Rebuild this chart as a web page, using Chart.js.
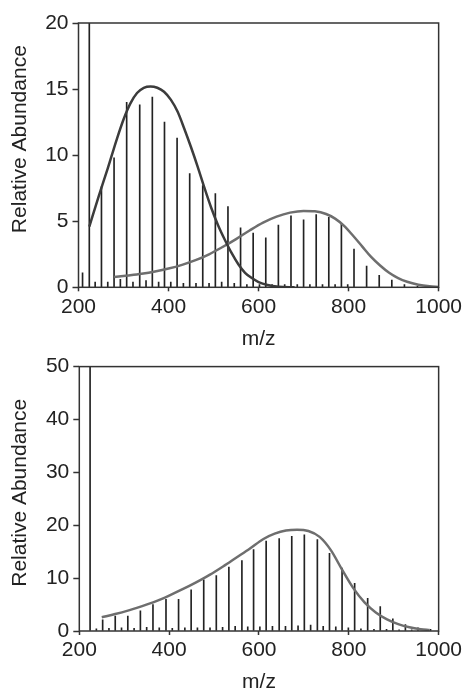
<!DOCTYPE html>
<html lang="en">
<head>
<meta charset="UTF-8">
<title>Relative Abundance vs m/z</title>
<script src="https://cdn.jsdelivr.net/npm/chart.js"></script>
<style>
  body { margin: 0; background: #ffffff; }
  canvas { position: absolute; left: 0; }
</style>
</head>
<body>
<canvas id="topChart" width="465" height="350" style="top:0"></canvas>
<canvas id="bottomChart" width="465" height="343" style="top:350px"></canvas>
<script>
// ---- top spectrum ----
// main peaks (m/z, relative abundance); the 224 peak runs off scale
const topPeakMz  = [209, 224, 251, 279, 307, 336, 364, 391, 419, 447, 476, 504, 532, 560,
                    588, 616, 644, 672, 700, 728, 756, 784, 812, 840, 868, 896, 924, 953];
const topPeakVal = [1.1, 100, 7.6, 9.8, 14.0, 13.8, 14.4, 12.5, 11.3, 8.6, 7.7, 7.1, 6.1, 4.5,
                    4.1, 3.75, 4.7, 5.4, 5.1, 5.5, 5.3, 4.8, 2.9, 1.6, 0.9, 0.55, 0.2, 0.1];
// small peaks in between
const topMinorMz  = [237, 265, 293, 321, 350, 378, 405, 433, 461, 490, 518, 546, 574, 602,
                     630, 658, 686, 714, 742, 770, 798];
const topMinorVal = [0.4, 0.4, 0.6, 0.4, 0.5, 0.4, 0.4, 0.3, 0.3, 0.3, 0.4, 0.3, 0.2, 0.2,
                     0.2, 0.2, 0.2, 0.2, 0.2, 0.2, 0.2];
// envelope 1 (low mass)
const topEnv1Mz  = [224, 245, 265, 285, 300, 315, 330, 345, 360, 375, 390, 405, 420, 435,
                    450, 465, 480, 495, 510, 525, 540, 555, 570, 585, 600, 620, 645, 680];
const topEnv1Val = [4.6, 6.9, 9.0, 11.2, 12.7, 13.9, 14.7, 15.1, 15.2, 15.1, 14.8, 14.2, 13.3, 12.0,
                    10.6, 9.1, 7.5, 6.0, 4.7, 3.6, 2.6, 1.75, 1.1, 0.7, 0.4, 0.18, 0.05, 0];
// envelope 2 (high mass)
const topEnv2Mz  = [279, 310, 340, 370, 400, 430, 460, 490, 520, 550, 580, 610, 640, 670,
                    700, 725, 750, 770, 790, 810, 830, 850, 870, 890, 910, 930, 955, 980, 1000];
const topEnv2Val = [0.78, 0.9, 1.03, 1.2, 1.42, 1.7, 2.05, 2.5, 3.05, 3.65, 4.3, 4.9, 5.35, 5.65,
                    5.78, 5.75, 5.55, 5.2, 4.65, 3.9, 3.1, 2.3, 1.65, 1.1, 0.7, 0.42, 0.2, 0.08, 0.03];

// ---- bottom spectrum ----
const botPeakMz  = [224, 252, 280, 308, 336, 364, 393, 421, 449, 477, 505, 533, 562, 588,
                    616, 645, 673, 701, 730, 757, 785, 813, 842, 870, 898, 926, 954, 982];
const botPeakVal = [100, 2.1, 2.8, 2.8, 3.8, 5.0, 6.0, 6.0, 7.8, 9.7, 10.5, 12.1, 13.3, 15.4,
                    17.0, 17.5, 17.9, 18.2, 17.3, 14.7, 11.9, 9.0, 6.2, 4.6, 2.3, 1.2, 0.6, 0.3];
const botMinorMz  = [238, 266, 294, 322, 350, 378, 407, 435, 463, 491, 519, 547, 575, 602,
                     630, 659, 687, 715, 743, 771, 799, 827, 856, 884, 912, 940];
const botMinorVal = [0.4, 0.5, 0.6, 0.5, 0.7, 0.6, 0.5, 0.6, 0.6, 0.6, 0.7, 0.9, 0.8, 0.8,
                     0.9, 0.9, 1.0, 1.1, 0.9, 0.8, 0.6, 0.4, 0.3, 0.3, 0.2, 0.2];
const botEnvMz  = [250, 280, 310, 340, 370, 400, 430, 460, 490, 520, 550, 580, 610, 635,
                   660, 685, 710, 735, 760, 785, 810, 835, 860, 885, 910, 935, 960, 980];
const botEnvVal = [2.6, 3.2, 3.9, 4.7, 5.6, 6.7, 7.9, 9.2, 10.6, 12.2, 13.9, 15.6, 17.4, 18.4,
                   19.0, 19.15, 18.9, 17.8, 15.3, 11.6, 8.1, 5.4, 3.5, 2.2, 1.3, 0.7, 0.35, 0.2];

const xTicks = [200, 400, 600, 800, 1000];

const INK = "#222222";
const FONT = "'Liberation Sans', Arial, sans-serif";

function pts(mz, val) {
  return mz.map((m, i) => ({ x: m, y: val[i] }));
}

// box round the plot area
const framePlugin = {
  id: "frame",
  afterDatasetsDraw(chart) {
    const { ctx, chartArea: a } = chart;
    ctx.save();
    ctx.strokeStyle = "#333333";
    ctx.lineWidth = 1.5;
    ctx.strokeRect(a.left, a.top, a.right - a.left, a.bottom - a.top);
    ctx.restore();
  }
};

// y title, placed a bit off the axis centre as in the original
const yTitlePlugin = {
  id: "yTitle",
  afterDraw(chart, args, opts) {
    const { ctx, chartArea: a } = chart;
    ctx.save();
    ctx.translate(opts.x, (a.top + a.bottom) / 2 + opts.shift);
    ctx.rotate(-Math.PI / 2);
    ctx.fillStyle = INK;
    ctx.font = "21px " + FONT;
    ctx.textAlign = "center";
    ctx.textBaseline = "middle";
    ctx.fillText(opts.text, 0, 0);
    ctx.restore();
  }
};

function spectrum(id, cfg) {
  const datasets = [
    { data: pts(cfg.peakMz, cfg.peakVal), backgroundColor: INK, barThickness: 1, grouped: false, order: 2 },
    { data: pts(cfg.minorMz, cfg.minorVal), backgroundColor: INK, barThickness: 1, grouped: false, order: 2 }
  ];
  cfg.curves.forEach(c => {
    datasets.push({
      type: "line",
      data: pts(c.mz, c.val),
      borderColor: c.color,
      borderWidth: 2.5,
      pointRadius: 0,
      cubicInterpolationMode: "monotone",
      fill: false,
      order: 1
    });
  });

  return new Chart(document.getElementById(id), {
    type: "bar",
    data: { datasets },
    options: {
      responsive: false,
      animation: false,
      layout: { padding: cfg.padding },
      plugins: {
        legend: { display: false },
        tooltip: { enabled: false },
        yTitle: { text: "Relative Abundance", x: 20, shift: cfg.titleShift }
      },
      scales: {
        x: {
          type: "linear",
          min: 200,
          max: 1000,
          offset: false,
          afterBuildTicks: s => { s.ticks = xTicks.map(v => ({ value: v })); },
          afterFit: s => { s.height = cfg.xHeight; },
          border: { display: false },
          grid: { drawOnChartArea: false, drawTicks: true, tickLength: 4, color: "#333", tickWidth: 1.5, offset: false },
          ticks: { color: INK, font: { family: FONT, size: 21 }, padding: 3, maxRotation: 0, callback: v => String(v) },
          title: { display: true, text: "m/z", color: INK, font: { family: FONT, size: 21, lineHeight: 1 }, padding: 0 }
        },
        y: {
          min: 0,
          max: cfg.yMax,
          afterBuildTicks: s => { s.ticks = cfg.yTicks.map(v => ({ value: v })); },
          afterFit: s => { s.width = cfg.yWidth; },
          border: { display: false },
          grid: { drawOnChartArea: false, drawTicks: true, tickLength: 6, color: "#333", tickWidth: 1.5 },
          ticks: { color: INK, font: { family: FONT, size: 21 }, padding: 4, callback: v => String(v) }
        }
      }
    },
    plugins: [framePlugin, yTitlePlugin]
  });
}

spectrum("topChart", {
  peakMz: topPeakMz, peakVal: topPeakVal,
  minorMz: topMinorMz, minorVal: topMinorVal,
  curves: [
    { mz: topEnv1Mz, val: topEnv1Val, color: "#3c3c3c" },
    { mz: topEnv2Mz, val: topEnv2Val, color: "#6e6e6e" }
  ],
  yMax: 20, yTicks: [0, 5, 10, 15, 20],
  padding: { left: 0, right: 26, top: 23, bottom: 0 },
  yWidth: 78.5, xHeight: 62.7, titleShift: -16
});

spectrum("bottomChart", {
  peakMz: botPeakMz, peakVal: botPeakVal,
  minorMz: botMinorMz, minorVal: botMinorVal,
  curves: [
    { mz: botEnvMz, val: botEnvVal, color: "#6e6e6e" }
  ],
  yMax: 50, yTicks: [0, 10, 20, 30, 40, 50],
  padding: { left: 0, right: 25.7, top: 15.7, bottom: 0 },
  yWidth: 79.3, xHeight: 62, titleShift: -6
});
</script>
</body>
</html>
